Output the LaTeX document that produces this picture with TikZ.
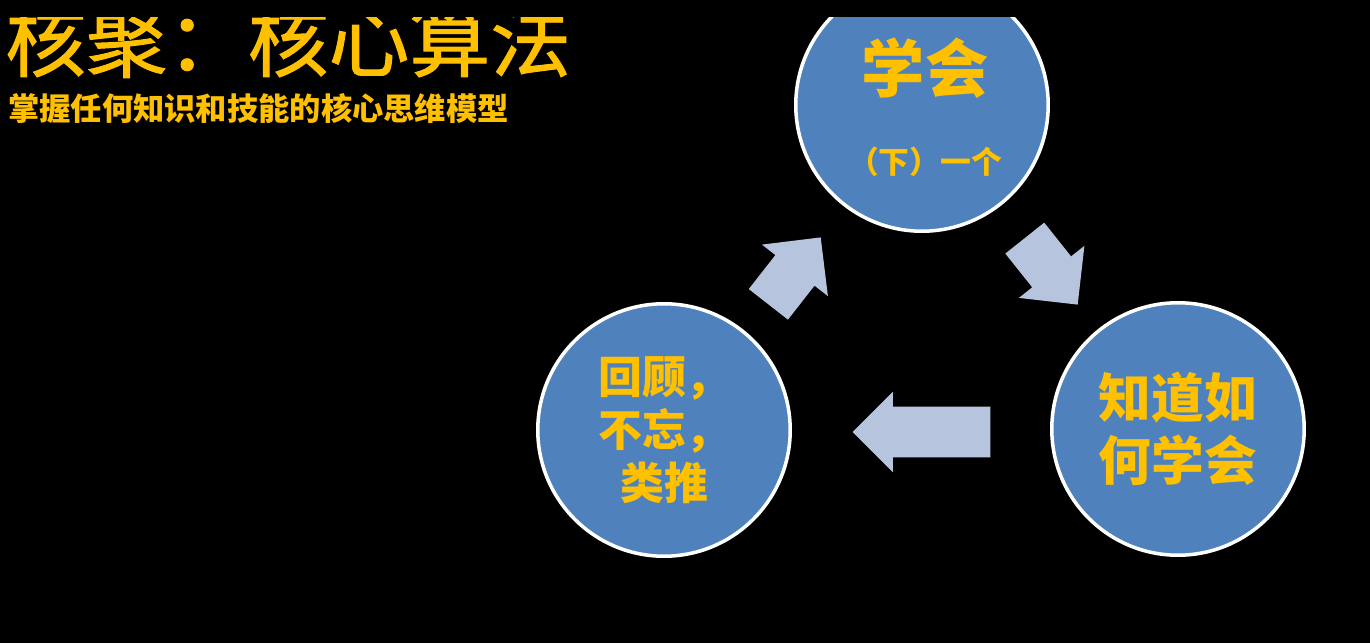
\documentclass[tikz,border=0pt]{standalone}
\usepackage{fontspec}
\setmainfont{Noto Sans CJK SC}
\newfontfamily\titlefont{Noto Sans CJK SC}[FakeBold=1.2]
\usepackage{xcolor}
\usepackage{tikz}
\usetikzlibrary{shapes.arrows}
\definecolor{stageblue}{HTML}{4F81BD}
\definecolor{gold}{HTML}{FFC000}
\definecolor{arrowblue}{HTML}{B7C4DE}

\begin{document}
\begin{tikzpicture}[
  x=0.02cm, y=0.02cm,
  stage/.style={circle, draw=white, line width=2pt, fill=stageblue,
                minimum size=5.05cm, inner sep=0pt, align=center,
                text=gold, font=\bfseries},
  lbl/.style={inner sep=0pt, text=gold},
  blk/.style={single arrow, fill=arrowblue, inner xsep=0pt, anchor=tip,
              single arrow tip angle=90}]

\useasboundingbox (0,0) rectangle (1370,643);
\fill[black] (0,0) rectangle (1370,643);
\clip (0,0) rectangle (1370,643);

% title
\node[lbl, anchor=west, font=\fontsize{46}{55}\titlefont] (title) at (5,603)
   {核聚：核心算法};
\node[lbl, anchor=west, font=\fontsize{17.8}{21}\selectfont\bfseries] (sub) at (8,535)
   {掌握任何知识和技能的核心思维模型};

% the three stages
\node[stage] (learn) at (922,538) {};
\node[lbl, font=\fontsize{36}{43}\selectfont\bfseries] (learnt) at (925,575) {学会};
\node[lbl, font=\fontsize{17.5}{21}\selectfont\bfseries] (next) at (925,481) {（下）一个};
\node[stage, font=\fontsize{30}{36}\selectfont\bfseries] (how) at (1178,214)
   {知道如\\何学会};
\node[stage, font=\fontsize{25}{30}\selectfont\bfseries] (review) at (664,213)
   {回顾，\\不忘，\\类推};

% block arrows between the stages, placed by their tips
\node[blk, minimum height=1.7cm, inner ysep=0.49cm,
      single arrow head extend=0.34cm, rotate=52] (up) at (821,406) {};
\node[blk, minimum height=1.7cm, inner ysep=0.49cm,
      single arrow head extend=0.34cm, rotate=-51.5] (down) at (1078,338) {};
\node[blk, minimum height=2.76cm, inner ysep=0.5cm,
      single arrow head extend=0.3cm, rotate=180] (back) at (852,211) {};

% top strip
\fill[black] (0,626) rectangle (1370,643);
\end{tikzpicture}
\end{document}
